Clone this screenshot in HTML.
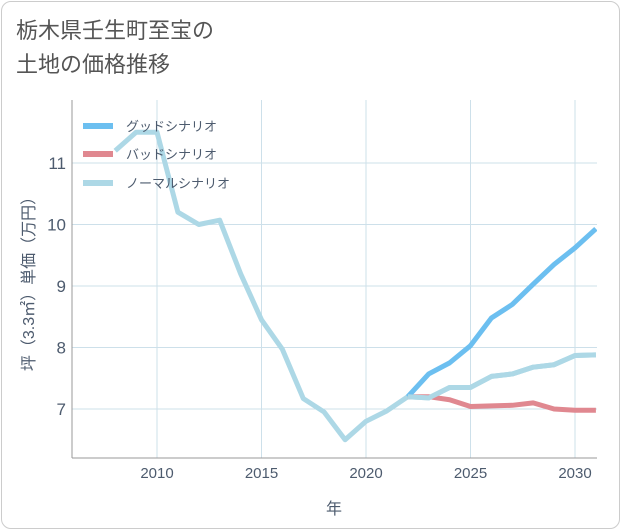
<!DOCTYPE html>
<html><head><meta charset="utf-8">
<style>
body{margin:0;background:#fff;font-family:"Liberation Sans","Noto Sans CJK JP",sans-serif;}
#card{position:absolute;left:1px;top:1px;width:617px;height:526px;border:1px solid #ccc;border-radius:10px;background:#fff;}
#title{position:absolute;left:16px;top:14px;font-size:22px;line-height:34px;color:#555;}
</style></head><body>
<div id="card"></div>
<div id="title">栃木県壬生町至宝の<br>土地の価格推移</div>
<svg id="chart" width="621" height="530" style="position:absolute;left:0;top:0"></svg>
<script>
const years=[2008,2009,2010,2011,2012,2013,2014,2015,2016,2017,2018,2019,2020,2021,2022,2023,2024,2025,2026,2027,2028,2029,2030,2031];
const normalVals=[11.2,11.5,11.5,10.2,10.0,10.07,9.2,8.45,7.97,7.17,6.95,6.5,6.8,6.97,7.2,7.18,7.35,7.35,7.53,7.57,7.68,7.72,7.87,7.88];
const goodYears=[2022,2023,2024,2025,2026,2027,2028,2029,2030,2031];
const goodVals=[7.2,7.57,7.75,8.03,8.48,8.7,9.03,9.35,9.62,9.93];
const badYears=[2022,2023,2024,2025,2026,2027,2028,2029,2030,2031];
const badVals=[7.2,7.2,7.15,7.04,7.05,7.06,7.1,7.0,6.98,6.98];
const xTicks=[2010,2015,2020,2025,2030];
const yTicks=[7,8,9,10,11];
const L=72,R=597,T=100,B=458;
const x=v=>157+(v-2010)*20.9;
const y=v=>409-(v-7)*61.5;
const svg=document.getElementById('chart');
const NS='http://www.w3.org/2000/svg';
const TC='#4d5b6e';
function mk(t,a,p){const e=document.createElementNS(NS,t);for(const k in a)e.setAttribute(k,a[k]);(p||svg).appendChild(e);return e;}
const clip=mk('clipPath',{id:'pc'});mk('rect',{x:L,y:T,width:R-L,height:B-T},clip);
xTicks.forEach(t=>{const l=mk('line',{x1:x(t),x2:x(t),y1:T,y2:B,stroke:'#cde0ea'});
const tx=mk('text',{x:x(t),y:478,'text-anchor':'middle','font-size':15,fill:TC});tx.textContent=t;});
yTicks.forEach(t=>{const l=mk('line',{x1:L,x2:R,y1:y(t),y2:y(t),stroke:'#cde0ea'});
const tx=mk('text',{x:66,y:y(t)+6,'text-anchor':'end','font-size':17,fill:TC});tx.textContent=t;});
const ax=mk('line',{x1:L,x2:L,y1:T,y2:B,stroke:'#999'});
const ax2=mk('line',{x1:L,x2:R,y1:B,y2:B,stroke:'#999'});
function series(xs,vs,c,name){const d=xs.map((v,i)=>(i?'L':'M')+x(v)+','+y(vs[i])).join(' ');
const p=mk('path',{d:d,fill:'none',stroke:c,'stroke-width':5,'clip-path':'url(#pc)','stroke-linejoin':'round'});}
series(years,normalVals,'#add8e6','normal-scenario-line');
series(badYears,badVals,'#e08890','bad-scenario-line');
series(goodYears,goodVals,'#6cbff0','good-scenario-line');
series(years.slice(14),normalVals.slice(14),'#add8e6','normal-scenario-line-front');
const leg=[['グッドシナリオ','#6cbff0',126],['バッドシナリオ','#e08890',154],['ノーマルシナリオ','#add8e6',183]];
leg.forEach(e=>{const l=mk('line',{x1:83,x2:113,y1:e[2],y2:e[2],stroke:e[1],'stroke-width':6});
const t=mk('text',{x:126,y:e[2]+5,'font-size':13,fill:TC});t.textContent=e[0];});
const xt=mk('text',{x:334,y:514,'text-anchor':'middle','font-size':16,fill:TC});xt.textContent='年';
const yt=mk('text',{x:0,y:0,'text-anchor':'middle','font-size':16,fill:TC,transform:'translate(34,280) rotate(-90)'});yt.textContent='坪（3.3㎡）単価（万円）';
</script>
</body></html>
